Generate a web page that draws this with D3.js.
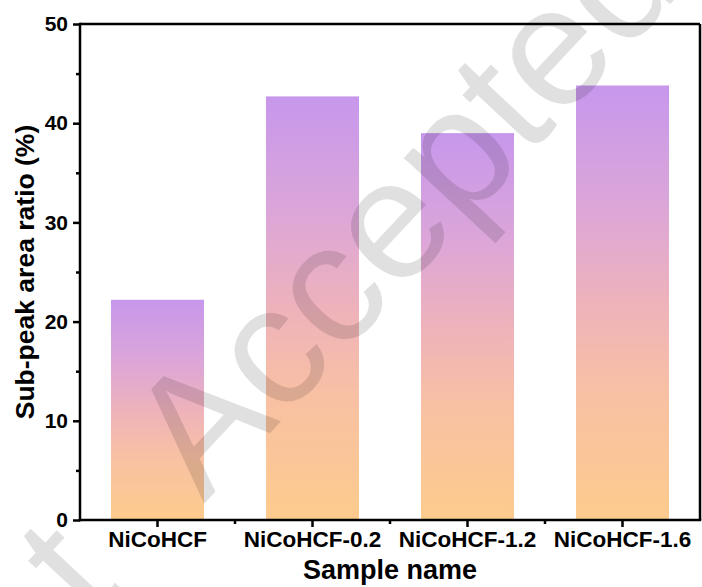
<!DOCTYPE html>
<html><head><meta charset="utf-8">
<script src="https://cdn.jsdelivr.net/npm/d3@7"></script>
<style>html,body{margin:0;padding:0;background:#fff;}svg{display:block;}</style>
</head><body>
<script>
const categories = ["NiCoHCF", "NiCoHCF-0.2", "NiCoHCF-1.2", "NiCoHCF-1.6"];
const values = [22.2, 42.7, 39.0, 43.8];
const yTicks = [0, 10, 20, 30, 40, 50];
const yMinorTicks = [5, 15, 25, 35, 45];
const xLabel = "Sample name";
const yLabel = "Sub-peak area ratio (%)";
const watermarkWords = ["t", "Accepted"];

const W = 702, H = 587;
const L = 80, R = 700, T = 24, B = 520;
const svg = d3.select("body").append("svg").attr("width", W).attr("height", H);
const font = "'Liberation Sans', Arial, sans-serif";

const xPos = d3.scaleBand().domain(categories).range([L, R]);
const y = d3.scaleLinear().domain([0, 50]).range([B, T]);

const defs = svg.append("defs");
const grad = defs.append("linearGradient").attr("id", "g").attr("x1", 0).attr("y1", 1).attr("x2", 0).attr("y2", 0);
[[0, "#fdcb8d"], [0.3, "#f8c0a4"], [0.5, "#eeb2bb"], [0.72, "#dca6d8"], [1, "#c797ec"]].forEach(([o, c]) =>
  grad.append("stop").attr("offset", o).attr("stop-color", c));

// bars
svg.append("g").selectAll("rect").data(categories).join("rect")
  .attr("x", d => xPos(d) + xPos.bandwidth() / 2 - xPos.bandwidth() * 0.3)
  .attr("width", xPos.bandwidth() * 0.6)
  .attr("y", (d, i) => y(values[i]))
  .attr("height", (d, i) => y(0) - y(values[i]))
  .attr("fill", "url(#g)");

// frame
svg.append("line").attr("x1", L).attr("x2", R).attr("y1", T).attr("y2", T).attr("stroke", "#000").attr("stroke-width", 2.5);
svg.append("line").attr("x1", R).attr("x2", R).attr("y1", T).attr("y2", B).attr("stroke", "#000").attr("stroke-width", 2.5);

// y axis
const ya = svg.append("g").attr("transform", `translate(${L},0)`)
  .call(d3.axisLeft(y).tickValues(yTicks).tickSize(7).tickPadding(5).tickFormat(d3.format("d")));
ya.select(".domain").attr("stroke-width", 2.5).attr("d", `M0,${B + 1.25}V${T - 1.25}`);
ya.selectAll(".tick line").attr("stroke-width", 2.5);
ya.selectAll(".tick text").attr("font-family", font).attr("font-weight", "bold").attr("font-size", 21).attr("fill", "#000");
svg.append("g").attr("transform", `translate(${L},0)`)
  .call(d3.axisLeft(y).tickValues(yMinorTicks).tickSize(4).tickFormat(""))
  .call(g => g.select(".domain").remove())
  .selectAll(".tick line").attr("stroke-width", 2.5);

// x axis
const xa = svg.append("g").attr("transform", `translate(0,${B})`)
  .call(d3.axisBottom(xPos).tickSize(7).tickPadding(4));
xa.select(".domain").attr("stroke-width", 2.5).attr("d", `M${L - 1.25},0H${R + 1.25}`);
xa.selectAll(".tick line").attr("stroke-width", 2.5);
xa.selectAll(".tick text").attr("font-family", font).attr("font-weight", "bold").attr("font-size", 22.5).attr("fill", "#000");
const minorX = categories.slice(1).map(c => xPos(c));
svg.append("g").selectAll("line").data(minorX).join("line")
  .attr("x1", d => d).attr("x2", d => d).attr("y1", B).attr("y2", B + 4)
  .attr("stroke", "#000").attr("stroke-width", 2.5);

// axis titles
svg.append("text").attr("x", (L + R) / 2).attr("y", 579).attr("text-anchor", "middle")
  .attr("font-family", font).attr("font-weight", "bold").attr("font-size", 27).text(xLabel);
svg.append("text").attr("transform", `translate(34,272) rotate(-90)`).attr("text-anchor", "middle")
  .attr("font-family", font).attr("font-weight", "bold").attr("font-size", 26.5).text(yLabel);

// watermark
const wm = svg.append("text").attr("transform", "translate(92,624) rotate(-47)")
  .attr("font-family", font).attr("font-size", 170).attr("fill", "#000").attr("fill-opacity", 0.12);
wm.append("tspan").text(watermarkWords[0]);
wm.append("tspan").attr("dx", 117).text(watermarkWords[1]);
</script>
</body></html>
